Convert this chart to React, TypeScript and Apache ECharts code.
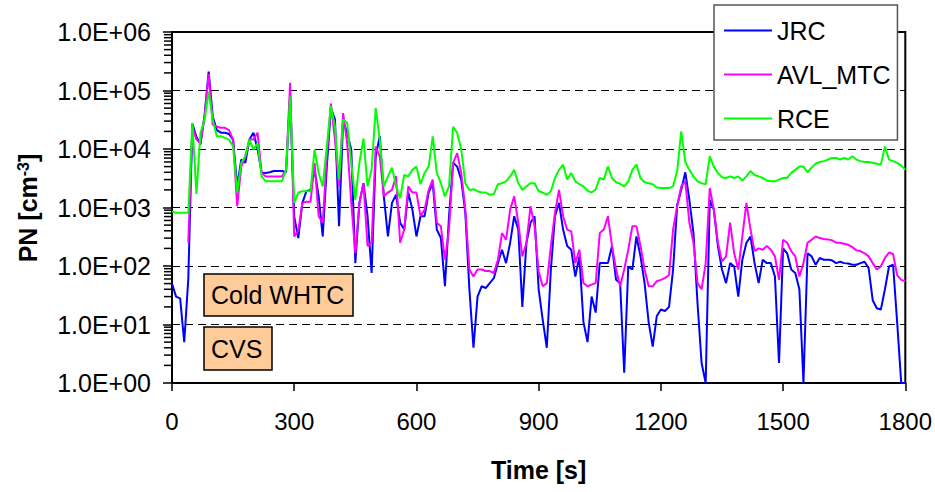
import React, { useEffect, useRef } from "react";
import * as echarts from "echarts";

const FONT = "'Liberation Sans', Arial, sans-serif";

const seriesNames = ["JRC", "AVL_MTC", "RCE"];
const seriesColors = ["#0000FF", "#FF00FF", "#00FF00"];
const annotationLabels = ["Cold WHTC", "CVS"];
const xTickValues = [0, 300, 600, 900, 1200, 1500, 1800];

const time = [
  0, 10, 20, 30, 40, 50, 60, 70, 80, 90, 100, 110, 120, 130, 140, 150, 160, 170, 180, 190,
  200, 210, 220, 230, 240, 250, 260, 270, 280, 290, 300, 310, 320, 330, 340, 350, 360, 370, 380, 390,
  400, 410, 420, 430, 440, 450, 460, 470, 480, 490, 500, 510, 520, 530, 540, 550, 560, 570, 580, 590,
  600, 610, 620, 630, 640, 650, 660, 670, 680, 690, 700, 710, 720, 730, 740, 750, 760, 770, 780, 790,
  800, 810, 820, 830, 840, 850, 860, 870, 880, 890, 900, 910, 920, 930, 940, 950, 960, 970, 980, 990,
  1000, 1010, 1020, 1030, 1040, 1050, 1060, 1070, 1080, 1090, 1100, 1110, 1120, 1130, 1140, 1150, 1160, 1170, 1180, 1190,
  1200, 1210, 1220, 1230, 1240, 1250, 1260, 1270, 1280, 1290, 1300, 1310, 1320, 1330, 1340, 1350, 1360, 1370, 1380, 1390,
  1400, 1410, 1420, 1430, 1440, 1450, 1460, 1470, 1480, 1490, 1500, 1510, 1520, 1530, 1540, 1550, 1560, 1570, 1580, 1590,
  1600, 1610, 1620, 1630, 1640, 1650, 1660, 1670, 1680, 1690, 1700, 1710, 1720, 1730, 1740, 1750, 1760, 1770, 1780, 1790,
  1800,
];

const jrc = [
  50, 30, 28, 5, 60, 27000, 16000, 12000, 38000, 210000, 36000, 21000, 19000, 19000, 18000, 14500, 2300, 6600, 5800, 14500,
  19000, 10000, 3900, 3900, 4000, 4200, 4200, 4200, 4000, 85000, 700, 300, 1200, 1900, 2000, 4400, 1550, 320, 5000, 50000,
  32000, 480, 30000, 19000, 9800, 112, 1200, 2600, 710, 76, 7500, 16500, 1550, 320, 1200, 1650, 550, 420, 1800, 920,
  320, 710, 710, 1800, 2600, 420, 300, 45, 710, 5800, 5000, 3000, 810, 40, 4, 30, 45, 42, 51, 62,
  112, 190, 112, 250, 710, 420, 20, 250, 550, 710, 40, 12, 4, 87, 710, 1200, 420, 220, 190, 66,
  146, 11, 5, 30, 16, 112, 112, 112, 220, 58, 51, 1.5, 98, 87, 320, 146, 51, 11, 4.2, 14,
  18, 17, 20, 87, 1100, 2000, 4000, 1350, 365, 23, 2.2, 1, 1350, 920, 220, 87, 51, 112, 98, 30,
  128, 250, 320, 112, 51, 128, 112, 112, 66, 2.2, 200, 165, 87, 76, 40, 1, 165, 146, 105, 137,
  128, 128, 125, 112, 118, 112, 110, 105, 105, 112, 118, 92, 26, 19, 18, 40, 98, 105, 11, 1,
  1,
];

const avlMtc = [
  null, null, null, null, 250, 24000, 14500, 12600, 36000, 190000, 26000, 24000, 23000, 23000, 21000, 14500, 1050, 5000, 7500, 14500,
  14500, 19000, 3900, 3400, 3400, 3400, 3400, 3400, 4400, 135000, 320, 400, 1200, 1250, 1250, 5800, 710, 550, 7500, 60000,
  14500, 2300, 41000, 12600, 1200, 165, 1200, 2600, 220, 250, 11000, 7500, 1550, 1800, 2000, 3400, 250, 420, 2300, 1800,
  1800, 710, 920, 2000, 3000, 550, 480, 128, 420, 5800, 8500, 3900, 920, 87, 66, 87, 87, 82, 82, 76,
  128, 365, 280, 920, 1550, 550, 146, 250, 1050, 480, 80, 45, 51, 220, 810, 2000, 710, 420, 390, 112,
  190, 51, 45, 48, 51, 365, 420, 710, 220, 87, 45, 87, 190, 480, 480, 220, 87, 45, 45, 55,
  58, 62, 70, 420, 1050, 2300, 2800, 550, 250, 51, 40, 112, 2150, 920, 250, 120, 146, 550, 165, 87,
  320, 1200, 420, 180, 200, 190, 220, 190, 146, 58, 280, 250, 180, 146, 66, 112, 250, 280, 320, 300,
  290, 285, 275, 250, 250, 240, 230, 210, 185, 180, 165, 146, 112, 87, 98, 137, 170, 160, 70, 58,
  55,
];

const rce = [
  860, 810, 810, 810, 810, 28000, 1700, 19000, 32000, 95000, 32000, 16500, 16500, 15500, 14500, 11000, 1800, 5800, 7500, 14500,
  9800, 12600, 3400, 2800, 2800, 2800, 2800, 2800, 4400, 79000, 1200, 1800, 1900, 1900, 1900, 9800, 3900, 2300, 11000, 54000,
  24000, 3000, 32000, 28000, 5800, 1350, 5800, 15000, 2300, 4400, 50000, 14500, 2300, 3400, 4800, 2300, 1450, 3600, 3400, 4400,
  5000, 2500, 3900, 5000, 16500, 3900, 2600, 1550, 2300, 24000, 19000, 9800, 2600, 2000, 2050, 1900, 1800, 1800, 1650, 1700,
  2500, 2600, 2800, 3400, 4400, 2600, 2000, 2300, 2600, 2600, 1900, 1800, 1650, 1900, 3200, 4400, 5400, 3000, 3900, 2800,
  2500, 2300, 1950, 1800, 2050, 3200, 3000, 5000, 3200, 2700, 2550, 2300, 2800, 4400, 5400, 3200, 2700, 2600, 2500, 2200,
  2150, 2150, 2150, 2300, 4200, 20000, 6000, 4400, 3400, 2800, 2600, 2500, 7500, 5000, 3900, 3300, 3200, 3400, 3200, 3400,
  2900, 3400, 4200, 3600, 3400, 3200, 2900, 2800, 2800, 3000, 3200, 3200, 3900, 4400, 5000, 5000, 4000, 4800, 5600, 6000,
  6200, 6600, 7000, 7000, 6600, 7000, 6600, 7500, 6600, 6200, 6000, 6000, 5800, 5600, 5400, 11000, 6600, 6200, 5800, 5200,
  4400,
];

const minorTickValues = [
  2, 3, 4, 5, 6, 7, 8, 9,
  20, 30, 40, 50, 60, 70, 80, 90,
  200, 300, 400, 500, 600, 700, 800, 900,
  2000, 3000, 4000, 5000, 6000, 7000, 8000, 9000,
  20000, 30000, 40000, 50000, 60000, 70000, 80000, 90000,
  200000, 300000, 400000, 500000, 600000, 700000, 800000, 900000,
];

export default function App() {
  const ref = useRef<HTMLDivElement>(null);

  useEffect(() => {
    document.body.style.margin = "0";
    const chart = echarts.init(ref.current as HTMLDivElement, null, { renderer: "svg" });
    const pairs = (vals: (number | null)[]) => time.map((t, i) => [t, vals[i]]);
    const allSeries = [jrc, avlMtc, rce];

    const staticGraphics: any[] = [
      {
        type: "text",
        x: 28,
        y: 208,
        rotation: Math.PI / 2,
        style: {
          text: "PN [cm{sup|-3}]",
          font: `bold 25px ${FONT}`,
          fill: "#000",
          align: "center",
          verticalAlign: "middle",
          rich: {
            sup: { fontSize: 16, fontWeight: "bold", fontFamily: FONT, verticalAlign: "top", fill: "#000" },
          },
        },
        z: 100,
      },
      {
        type: "rect",
        x: 204,
        y: 274,
        shape: { width: 149, height: 42 },
        style: { fill: "#FFCC99", stroke: "#000", lineWidth: 1.5 },
        z: 100,
      },
      {
        type: "text",
        x: 211,
        y: 295,
        style: { text: annotationLabels[0], font: `25px ${FONT}`, fill: "#000", align: "left", verticalAlign: "middle" },
        z: 101,
      },
      {
        type: "rect",
        x: 204,
        y: 327,
        shape: { width: 68, height: 43 },
        style: { fill: "#FFCC99", stroke: "#000", lineWidth: 1.5 },
        z: 100,
      },
      {
        type: "text",
        x: 211,
        y: 348.5,
        style: { text: annotationLabels[1], font: `25px ${FONT}`, fill: "#000", align: "left", verticalAlign: "middle" },
        z: 101,
      },
    ];

    // minor log ticks (2..9 x 10^k) on the y axis, placed through api.coord
    const minorSeries = {
      name: "minorTicks",
      type: "custom",
      silent: true,
      clip: false,
      z: 20,
      data: minorTickValues.map((v) => [xTickValues[0], v]),
      renderItem: (_params: any, api: any) => {
        const p = api.coord([api.value(0), api.value(1)]);
        return {
          type: "line",
          shape: { x1: p[0] - 8, y1: p[1], x2: p[0] - 1, y2: p[1] },
          style: { stroke: "#000", lineWidth: 1.5 },
        };
      },
    };

    chart.setOption({
      animation: false,
      textStyle: { fontFamily: FONT },
      grid: {
        left: 172,
        right: 22,
        top: 32,
        bottom: 109,
        show: true,
        borderColor: "#000",
        borderWidth: 2,
      },
      xAxis: {
        type: "value",
        min: xTickValues[0],
        max: xTickValues[xTickValues.length - 1],
        interval: 300,
        axisLine: { lineStyle: { color: "#000", width: 2 } },
        axisTick: { length: 8, lineStyle: { color: "#000", width: 1.5 } },
        axisLabel: {
          fontSize: 24,
          color: "#000",
          margin: 26,
          fontFamily: FONT,
          formatter: (v: number) => String(v),
        },
        splitLine: { show: false },
        name: "Time [s]",
        nameLocation: "middle",
        nameGap: 74,
        nameTextStyle: { fontSize: 25, fontWeight: "bold", color: "#000", fontFamily: FONT },
      },
      yAxis: {
        type: "log",
        logBase: 10,
        min: 1,
        max: 1000000,
        splitNumber: 6,
        axisLine: { show: true, lineStyle: { color: "#000", width: 2 } },
        axisTick: { show: true, length: 9, lineStyle: { color: "#000", width: 1.5 } },
        minorTick: { show: false },
        axisLabel: {
          fontSize: 25,
          color: "#000",
          margin: 21,
          fontFamily: FONT,
          formatter: (v: number) => {
            const e = Math.round(Math.log10(v));
            return "1.0E+" + (e < 10 ? "0" + e : "" + e);
          },
        },
        splitLine: { show: true, lineStyle: { color: "#000", width: 1, type: [8, 5] } },
      },
      legend: {
        data: seriesNames,
        orient: "vertical",
        left: 714,
        top: 5,
        padding: [13, 7, 9, 10],
        itemGap: 19,
        itemWidth: 48,
        itemHeight: 2,
        icon: "rect",
        backgroundColor: "#fff",
        borderColor: "#555",
        borderWidth: 1.5,
        selectedMode: false,
        textStyle: { fontSize: 25, color: "#000", lineHeight: 25, fontFamily: FONT },
      },
      series: [
        ...seriesNames.map((name, k) => ({
          name,
          type: "line",
          data: pairs(allSeries[k]),
          showSymbol: false,
          symbol: "none",
          connectNulls: false,
          lineStyle: { color: seriesColors[k], width: 2 },
          itemStyle: { color: seriesColors[k] },
          z: 3 + k,
        })),
        minorSeries,
      ],
      graphic: staticGraphics,
    });

    return () => chart.dispose();
  }, []);

  return <div ref={ref} style={{ width: 935, height: 492 }} />;
}
